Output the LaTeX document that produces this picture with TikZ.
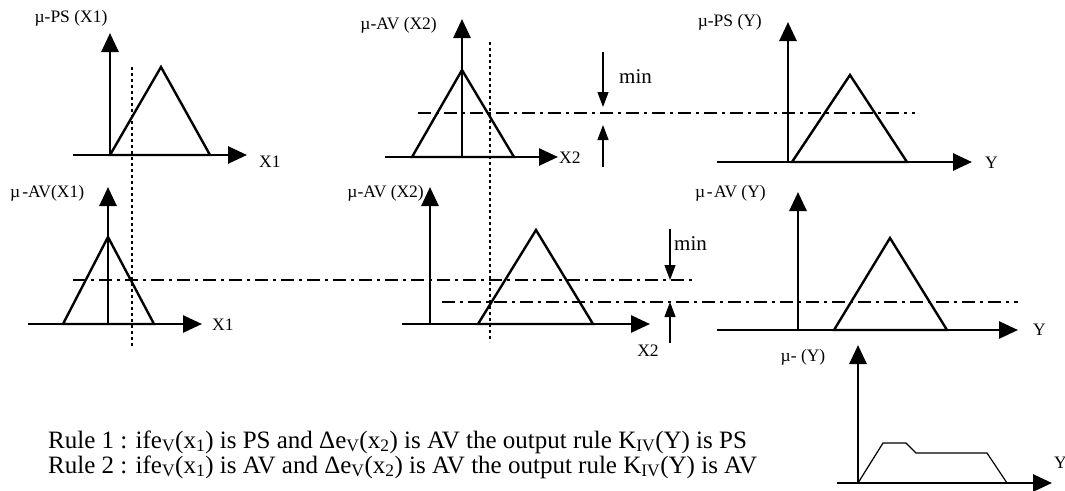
\documentclass[tikz,border=0pt]{standalone}
\usepackage{fontspec}
\setmainfont{Liberation Serif}
\usetikzlibrary{arrows.meta}
\tikzset{
  axis/.style={line width=2.8pt, -{Triangle[length=19pt,width=17pt]}},
  memb/.style={line width=2.4pt, line join=miter},
  cutline/.style={line width=2.4pt, dash pattern=on 13pt off 5pt on 3pt off 5pt},
  probe/.style={line width=2.8pt, dash pattern=on 3pt off 3pt},
  minarrow/.style={line width=1.2pt, -{Triangle[length=15pt,width=11pt]}},
  mulabel/.style={font=\fontsize{17.5}{17.5}\selectfont, inner sep=0pt},
  varlabel/.style={font=\fontsize{17.5}{17.5}\selectfont, inner sep=0pt},
  minlabel/.style={font=\fontsize{21}{21}\selectfont, inner sep=0pt, anchor=west},
  rule/.style={font=\fontsize{25}{25}\selectfont, inner sep=0pt, anchor=west}
}

\begin{document}
\begin{tikzpicture}[x=1pt, y=-1pt]
  \useasboundingbox (0,0) rectangle (1065,490);

  % top row: mu-PS(X1)
  \coordinate (ps1-o) at (110,155);
  \coordinate (ps1-top) at (110,33);
  \coordinate (ps1-left) at (73,155);
  \coordinate (ps1-right) at (247,155);
  \draw[axis] (ps1-o) -- (ps1-top);
  \draw[axis] (ps1-left) -- (ps1-right);
  \draw[memb] (110,155) -- (161,67) -- (210,155) -- cycle;
  \node[mulabel] (ps1-lbl) at (71,18) {µ-PS (X1)};
  \node[varlabel, anchor=west] (ps1-var) at (259,162) {X1};

  % top row: mu-AV(X2)
  \coordinate (av2-o) at (462,157);
  \coordinate (av2-top) at (462,19);
  \coordinate (av2-left) at (385,157);
  \coordinate (av2-right) at (558,157);
  \draw[axis] (av2-o) -- (av2-top);
  \draw[axis] (av2-left) -- (av2-right);
  \draw[memb] (412,157) -- (462,70) -- (514,157) -- cycle;
  \node[mulabel, anchor=east] (av2-lbl) at (437,25) {µ-AV (X2)};
  \node[varlabel, anchor=west] (av2-var) at (559,158) {X2};

  % top row: mu-PS(Y)
  \coordinate (psy-o) at (788,162);
  \coordinate (psy-top) at (788,22);
  \coordinate (psy-left) at (717,162);
  \coordinate (psy-right) at (972,162);
  \draw[axis] (psy-o) -- (psy-top);
  \draw[axis] (psy-left) -- (psy-right);
  \draw[memb] (792,162) -- (850,75) -- (907,162) -- cycle;
  \node[mulabel, anchor=east] (psy-lbl) at (762,22) {µ-PS (Y)};
  \node[varlabel, anchor=west] (psy-var) at (985,163) {Y};

  % top row: cut level and min
  \coordinate (cut1-a) at (418,113);
  \coordinate (cut1-b) at (915,113);
  \draw[cutline] (cut1-a) -- (cut1-b);
  \coordinate (min1-a) at (603,52);
  \coordinate (min1-b) at (603,107);
  \coordinate (min1-c) at (603,167);
  \coordinate (min1-d) at (603,125);
  \draw[minarrow] (min1-a) -- (min1-b);
  \draw[minarrow] (min1-c) -- (min1-d);
  \node[minlabel] (min1) at (619,77) {min};

  % bottom row: mu-AV(X1)
  \coordinate (av1-o) at (108,324);
  \coordinate (av1-top) at (108,187);
  \coordinate (av1-left) at (28,324);
  \coordinate (av1-right) at (202,324);
  \draw[axis] (av1-o) -- (av1-top);
  \draw[axis] (av1-left) -- (av1-right);
  \draw[memb] (63,324) -- (108,237) -- (154,324) -- cycle;
  \node[mulabel, anchor=west] (av1-lbl) at (10,193) {µ\hspace{2pt}-AV(X1)};
  \node[varlabel, anchor=west] (av1-var) at (212,325) {X1};

  % bottom row: mu-AV(X2)
  \coordinate (av2b-o) at (430,324);
  \coordinate (av2b-top) at (430,187);
  \coordinate (av2b-left) at (402,324);
  \coordinate (av2b-right) at (650,324);
  \draw[axis] (av2b-o) -- (av2b-top);
  \draw[axis] (av2b-left) -- (av2b-right);
  \draw[memb] (478,324) -- (536,230) -- (593,324) -- cycle;
  \node[mulabel, anchor=east] (av2b-lbl) at (424,193) {µ-AV (X2)};
  \node[varlabel] (av2b-var) at (648,351) {X2};

  % bottom row: mu-AV(Y)
  \coordinate (avy-o) at (798,330);
  \coordinate (avy-top) at (798,192);
  \coordinate (avy-left) at (717,330);
  \coordinate (avy-right) at (1018,330);
  \draw[axis] (avy-o) -- (avy-top);
  \draw[axis] (avy-left) -- (avy-right);
  \draw[memb] (834,330) -- (890,238) -- (947,330) -- cycle;
  \node[mulabel, anchor=west] (avy-lbl) at (695,193) {µ\hspace{1.5pt}-\hspace{1.5pt}AV (Y)};
  \node[varlabel, anchor=west] (avy-var) at (1033,330) {Y};

  % bottom row: cut levels and min
  \coordinate (cut2-a) at (73,280);
  \coordinate (cut2-b) at (695,280);
  \draw[cutline] (cut2-a) -- (cut2-b);
  \coordinate (cut3-a) at (442,302);
  \coordinate (cut3-b) at (1018,302);
  \draw[cutline] (cut3-a) -- (cut3-b);
  \coordinate (min2-a) at (670,229);
  \coordinate (min2-b) at (670,280);
  \coordinate (min2-c) at (670,343);
  \coordinate (min2-d) at (670,302);
  \draw[minarrow] (min2-a) -- (min2-b);
  \draw[minarrow] (min2-c) -- (min2-d);
  \node[minlabel] (min2) at (674,244) {min};

  % input values
  \coordinate (in1-a) at (132,67);
  \coordinate (in1-b) at (132,346);
  \draw[probe] (in1-a) -- (in1-b);
  \coordinate (in2-a) at (490,42);
  \coordinate (in2-b) at (490,342);
  \draw[probe] (in2-a) -- (in2-b);

  % aggregated output
  \coordinate (out-o) at (858,483);
  \coordinate (out-top) at (858,345);
  \coordinate (out-left) at (837,483);
  \coordinate (out-right) at (1052,483);
  \draw[axis] (out-o) -- (out-top);
  \draw[axis] (out-left) -- (out-right);
  \draw[line width=1.2pt] (858,483) -- (883,443) -- (906,443) -- (916,453)
    -- (987,453) -- (1007,483);
  \node[mulabel] (out-lbl) at (803,357) {µ- (Y)};
  \node[varlabel, anchor=west] (out-var) at (1054,463) {Y};

  % rules
  \node[rule] (rule1) at (48,442) {Rule 1 : ife\textsubscript{V}(x\textsubscript{1}) is PS and Δe\textsubscript{V}(x\textsubscript{2}) is AV the output rule K\textsubscript{IV}(Y) is PS};
  \node[rule] (rule2) at (48,467) {Rule 2 : ife\textsubscript{V}(x\textsubscript{1}) is AV and Δe\textsubscript{V}(x\textsubscript{2}) is AV the output rule K\textsubscript{IV}(Y) is AV};
\end{tikzpicture}
\end{document}
